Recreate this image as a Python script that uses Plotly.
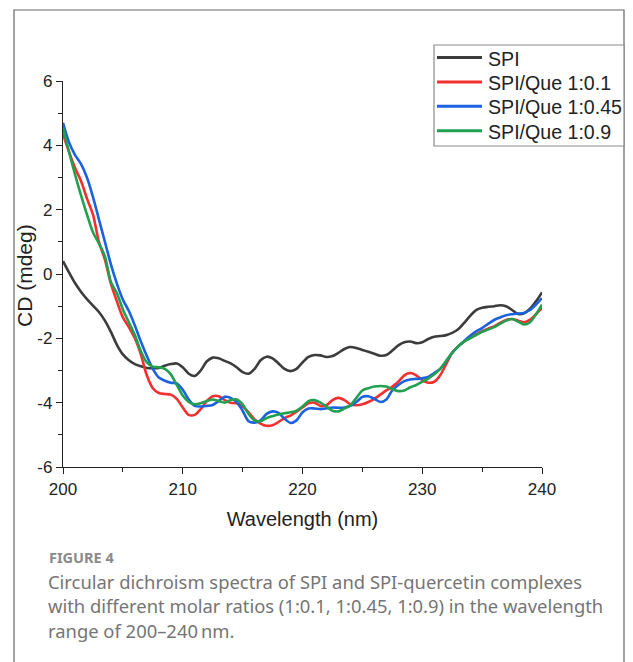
import plotly.graph_objects as go

wavelength = [200 + 0.5 * i for i in range(81)]

spi = [0.40, 0.05, -0.28, -0.55, -0.78, -0.98, -1.18, -1.45, -1.80, -2.20,
       -2.50, -2.68, -2.80, -2.87, -2.92, -2.93, -2.92, -2.85, -2.80, -2.78,
       -2.90, -3.10, -3.17, -3.00, -2.72, -2.60, -2.62, -2.70, -2.78, -2.90,
       -3.05, -3.10, -2.95, -2.68, -2.57, -2.62, -2.78, -2.95, -3.02, -2.95,
       -2.75, -2.58, -2.52, -2.53, -2.58, -2.55, -2.45, -2.33, -2.27, -2.30,
       -2.36, -2.42, -2.48, -2.54, -2.52, -2.38, -2.22, -2.12, -2.10, -2.15,
       -2.12, -2.02, -1.95, -1.93, -1.90, -1.83, -1.72, -1.52, -1.30, -1.12,
       -1.05, -1.02, -1.00, -0.97, -1.00, -1.12, -1.24, -1.22, -1.08, -0.85,
       -0.57]

que_01 = [4.35, 3.80, 3.30, 2.90, 2.35, 1.85, 1.00, 0.45, -0.30, -0.85,
          -1.35, -1.65, -2.00, -2.50, -3.15, -3.55, -3.70, -3.73, -3.75, -3.88,
          -4.15, -4.38, -4.38, -4.20, -3.95, -3.80, -3.80, -3.92, -4.00, -4.02,
          -4.12, -4.30, -4.52, -4.65, -4.72, -4.70, -4.60, -4.48, -4.40, -4.28,
          -4.15, -4.02, -4.00, -4.10, -4.08, -3.92, -3.85, -3.92, -4.05, -4.08,
          -4.05, -3.98, -3.88, -3.75, -3.62, -3.50, -3.35, -3.15, -3.08, -3.15,
          -3.30, -3.38, -3.35, -3.15, -2.80, -2.45, -2.25, -2.10, -1.97, -1.87,
          -1.78, -1.70, -1.63, -1.52, -1.43, -1.40, -1.45, -1.50, -1.42, -1.25,
          -1.05]

que_045 = [4.70, 4.10, 3.70, 3.42, 3.00, 2.40, 1.70, 1.00, 0.30, -0.30,
           -0.80, -1.15, -1.60, -2.10, -2.55, -2.95, -3.22, -3.32, -3.38, -3.40,
           -3.60, -3.90, -4.10, -4.12, -4.10, -4.07, -3.95, -3.82, -3.85, -3.98,
           -4.25, -4.58, -4.62, -4.55, -4.35, -4.27, -4.32, -4.50, -4.63, -4.55,
           -4.30, -4.18, -4.18, -4.20, -4.18, -4.15, -4.16, -4.15, -4.10, -3.98,
           -3.82, -3.80, -3.88, -3.98, -3.90, -3.62, -3.45, -3.33, -3.28, -3.26,
           -3.24, -3.20, -3.08, -2.95, -2.72, -2.45, -2.25, -2.08, -1.92, -1.78,
           -1.68, -1.55, -1.43, -1.35, -1.28, -1.25, -1.23, -1.21, -1.12, -0.95,
           -0.75]

que_09 = [4.55, 3.80, 3.10, 2.45, 1.85, 1.30, 0.95, 0.55, -0.25, -0.60,
          -1.10, -1.50, -1.90, -2.40, -2.75, -2.88, -2.90, -2.95, -3.12, -3.45,
          -3.78, -3.98, -4.05, -4.02, -3.95, -3.90, -3.95, -4.00, -3.92, -3.90,
          -4.05, -4.35, -4.55, -4.58, -4.48, -4.42, -4.37, -4.33, -4.30, -4.25,
          -4.12, -3.95, -3.92, -4.00, -4.12, -4.25, -4.27, -4.18, -4.08, -3.85,
          -3.62, -3.55, -3.50, -3.48, -3.50, -3.58, -3.64, -3.62, -3.52, -3.45,
          -3.35, -3.25, -3.12, -2.95, -2.70, -2.45, -2.25, -2.10, -2.00, -1.90,
          -1.80, -1.73, -1.65, -1.55, -1.45, -1.40, -1.48, -1.57, -1.50, -1.25,
          -0.95]

series_names = ["SPI", "SPI/Que 1:0.1", "SPI/Que 1:0.45", "SPI/Que 1:0.9"]
series_values = [spi, que_01, que_045, que_09]
series_colors = ["#3c3c3c", "#f2302f", "#1a62e0", "#22a04f"]

x_ticks = [200, 210, 220, 230, 240]
x_tick_labels = ["200", "210", "220", "230", "240"]
y_ticks = [-6, -4, -2, 0, 2, 4, 6]
y_tick_labels = ["-6", "-4", "-2", "0", "2", "4", "6"]

caption_title = "FIGURE 4"
caption_lines = [
    "Circular dichroism spectra of SPI and SPI-quercetin complexes",
    "with different molar ratios (1:0.1, 1:0.45, 1:0.9) in the wavelength",
    "range of 200\u2013240\u2009nm.",
]

# ---- geometry helpers (page pixels -> paper coords of the plot area) ----
PL, PR, PT, PB = 63, 542, 81, 467   # plot area on the page


def px(x):
    return (x - PL) / (PR - PL)


def py(y):
    return (PB - y) / (PB - PT)


fig = go.Figure()
for name, vals, col in zip(series_names, series_values, series_colors):
    fig.add_trace(go.Scatter(x=wavelength, y=vals, mode="lines", name=name,
                             showlegend=False,
                             line=dict(color=col, width=2.6, shape="spline", smoothing=0.8)))

FONT = "Liberation Sans, Arial, sans-serif"
axis_common = dict(showline=True, linecolor="#222", linewidth=1.3, ticks="outside",
                   ticklen=6, tickwidth=1.3, tickcolor="#222", showgrid=False, zeroline=False,
                   tickfont=dict(family=FONT, size=17, color="#222"))

# page body has an 8px margin: the figure is drawn 8px smaller and offset
OFF = 8
fig.update_layout(
    width=633 - OFF, height=662 - OFF,
    margin=dict(l=PL - OFF, r=633 - PR, t=PT - OFF, b=662 - PB),
    paper_bgcolor="white", plot_bgcolor="white",
    showlegend=False,
    xaxis=dict(range=[200, 240], tickvals=x_ticks, ticktext=x_tick_labels,
               title=dict(text="Wavelength (nm)", font=dict(family=FONT, size=20, color="#222"), standoff=14),
               minor=dict(dtick=5, ticklen=4, tickwidth=1.3, tickcolor="#222", ticks="outside", showgrid=False),
               **axis_common),
    yaxis=dict(range=[-6, 6], tickvals=y_ticks, ticktext=y_tick_labels,
               minor=dict(dtick=1, ticklen=4, tickwidth=1.3, tickcolor="#222", ticks="outside", showgrid=False),
               **axis_common),
)

# y-axis title
fig.add_annotation(text="CD (mdeg)", xref="paper", yref="paper", x=px(24), y=py(276),
                   textangle=-90, showarrow=False, xanchor="center", yanchor="middle",
                   font=dict(family=FONT, size=21, color="#222"))

# outer frame of the figure panel
fig.add_shape(type="rect", xref="paper", yref="paper",
              x0=px(14), x1=px(624), y0=py(680), y1=py(10),
              line=dict(color="#666", width=1.2), fillcolor="rgba(0,0,0,0)", layer="below")

# legend box drawn by hand (to match the compact row spacing)
fig.add_shape(type="rect", xref="paper", yref="paper",
              x0=px(434), x1=px(624), y0=py(146), y1=py(45),
              line=dict(color="#8a8a8a", width=1.2), fillcolor="white", layer="above")
for i, (name, col) in enumerate(zip(series_names, series_colors)):
    yc = 57.5 + 24.4 * i
    fig.add_shape(type="line", xref="paper", yref="paper",
                  x0=px(437), x1=px(482), y0=py(yc), y1=py(yc),
                  line=dict(color=col, width=3), layer="above")
    fig.add_annotation(text=name, xref="paper", yref="paper", x=px(486), y=py(yc + 1),
                       xanchor="left", yanchor="middle", showarrow=False,
                       font=dict(family=FONT, size=19.6, color="#222"))

CAP_FONT = "Noto Sans, Open Sans, sans-serif"
fig.add_annotation(text="<b>" + caption_title + "</b>", xref="paper", yref="paper",
                   x=px(47), y=py(557), xanchor="left", yanchor="middle",
                   showarrow=False, font=dict(family=CAP_FONT, size=14.5, color="#8a8a8a"))
for i, line in enumerate(caption_lines):
    fig.add_annotation(text=line, xref="paper", yref="paper",
                       x=px(46), y=py(581 + 24.5 * i),
                       xanchor="left", yanchor="middle", showarrow=False,
                       font=dict(family=CAP_FONT, size=18.4, color="#757575"))

fig.write_html("out.html")
